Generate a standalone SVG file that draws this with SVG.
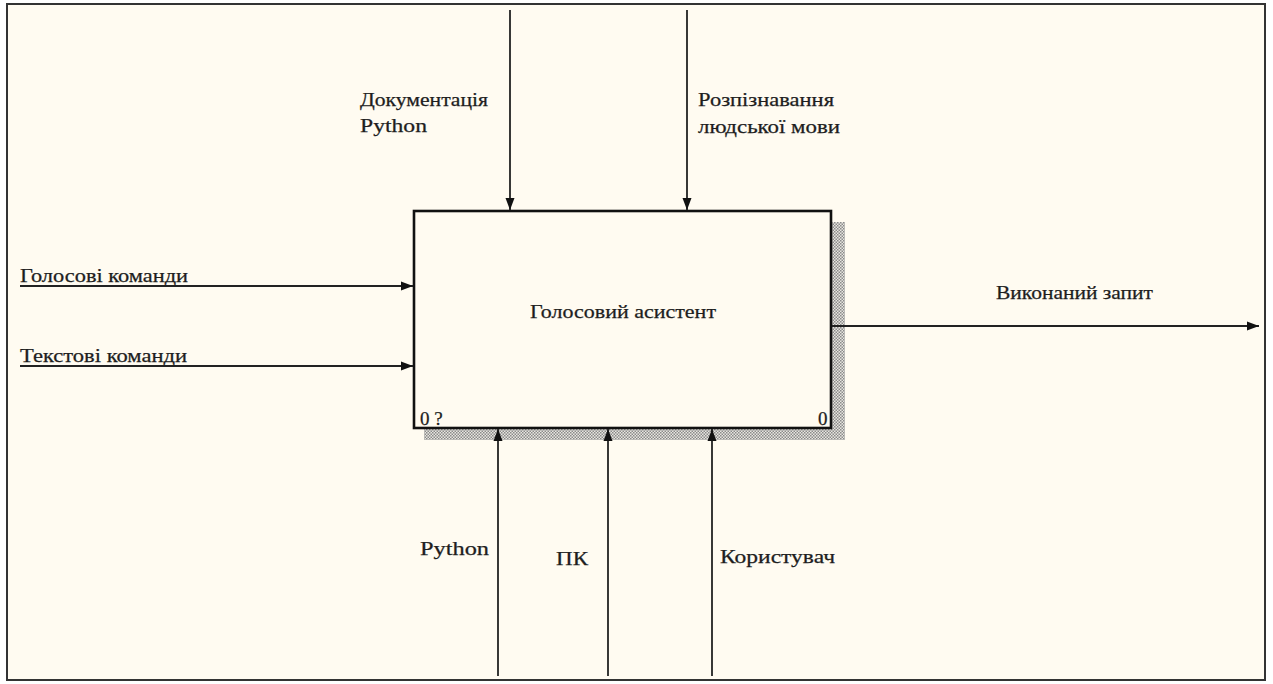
<svg xmlns="http://www.w3.org/2000/svg" width="1273" height="684" viewBox="0 0 1273 684">
<style>
.t{font-family:"Liberation Serif","DejaVu Serif","Times New Roman",serif;font-size:19px;fill:#1e1e1e;stroke:#1e1e1e;stroke-width:0.25}
.c{stroke:#222;stroke-width:1.8;fill:none}
</style>
<defs>
<pattern id="hatch" width="3" height="3" patternUnits="userSpaceOnUse">
<rect width="3" height="3" fill="#e8e6e0"/>
<rect width="1.5" height="1.5" fill="#8a8a8a"/>
<rect x="1.5" y="1.5" width="1.5" height="1.5" fill="#8a8a8a"/>
</pattern>
<marker id="ah" viewBox="0 0 12 10" refX="12" refY="5" markerWidth="12" markerHeight="10" markerUnits="userSpaceOnUse" orient="auto">
<path d="M0,0.5 L12,5 L0,9.5 Z" fill="#111"/>
</marker>
</defs>
<rect width="1273" height="684" fill="#ffffff"/>
<rect x="7" y="4" width="1258" height="676" fill="#fffbf1" stroke="#333" stroke-width="2"/>
<g id="node-main">
<rect x="831" y="222" width="14" height="218" fill="url(#hatch)"/>
<rect x="424" y="428" width="421" height="12" fill="url(#hatch)"/>
<rect x="414" y="211" width="417" height="217" fill="#fffbf1" stroke="#111" stroke-width="2.6"/>
<text class="t" x="530" y="318" textLength="186" lengthAdjust="spacingAndGlyphs">Голосовий асистент</text>
<text class="t" x="420" y="425">0 ?</text>
<text class="t" x="818" y="425">0</text>
</g>
<g id="connectors">
<line class="c" x1="510" y1="10" x2="510" y2="210" marker-end="url(#ah)"/>
<line class="c" x1="687" y1="10" x2="687" y2="210" marker-end="url(#ah)"/>
<line class="c" x1="20" y1="286" x2="413" y2="286" marker-end="url(#ah)"/>
<line class="c" x1="20" y1="366" x2="413" y2="366" marker-end="url(#ah)"/>
<line class="c" x1="832" y1="326" x2="1259" y2="326" marker-end="url(#ah)"/>
<line class="c" x1="498" y1="676" x2="498" y2="429" marker-end="url(#ah)"/>
<line class="c" x1="608" y1="676" x2="608" y2="429" marker-end="url(#ah)"/>
<line class="c" x1="712" y1="676" x2="712" y2="429" marker-end="url(#ah)"/>
</g>
<g id="labels">
<text class="t" x="360" y="106" textLength="128" lengthAdjust="spacingAndGlyphs">Документація</text>
<text class="t" x="360" y="132" textLength="67" lengthAdjust="spacingAndGlyphs">Python</text>
<text class="t" x="698" y="106" textLength="136" lengthAdjust="spacingAndGlyphs">Розпізнавання</text>
<text class="t" x="698" y="133" textLength="142" lengthAdjust="spacingAndGlyphs">людської мови</text>
<text class="t" x="20" y="282" textLength="168" lengthAdjust="spacingAndGlyphs">Голосові команди</text>
<text class="t" x="20" y="362" textLength="167" lengthAdjust="spacingAndGlyphs">Текстові команди</text>
<text class="t" x="996" y="299" textLength="157" lengthAdjust="spacingAndGlyphs">Виконаний запит</text>
<text class="t" x="420" y="555" textLength="69" lengthAdjust="spacingAndGlyphs">Python</text>
<text class="t" x="556" y="565" textLength="32" lengthAdjust="spacingAndGlyphs">ПК</text>
<text class="t" x="720" y="563" textLength="115" lengthAdjust="spacingAndGlyphs">Користувач</text>
</g>
</svg>
